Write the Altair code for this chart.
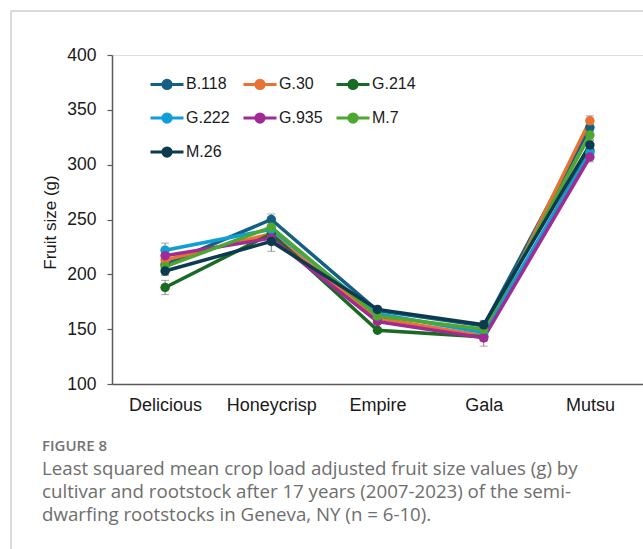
import altair as alt
import pandas as pd

# Cultivars on the x axis and rootstocks as series
cultivars = ["Delicious", "Honeycrisp", "Empire", "Gala", "Mutsu"]
rootstocks = ["B.118", "G.30", "G.214", "G.222", "G.935", "M.7", "M.26"]
colors = ["#156082", "#e97132", "#196b24", "#0f9ed5", "#a02b93", "#4ea72e", "#0c3a4e"]

# Least-squares mean fruit size (g), one list per rootstock, in cultivar order
b118 = [209, 250, 167, 153, 334]
g30 = [213, 237, 160, 144, 340]
g214 = [188, 237, 149, 143, 313]
g222 = [222, 241, 164, 147, 311]
g935 = [217, 233, 157, 142, 307]
m7 = [207, 243, 162, 150, 327]
m26 = [203, 230, 168, 154, 318]

# Standard errors (g)
b118_se = [5, 5, 2, 4, 4]
g30_se = [5, 5, 2, 4, 4.5]
g214_se = [6.5, 5, 2, 4, 4]
g222_se = [6.5, 5, 2, 4, 4]
g935_se = [5, 5, 2, 7.5, 4.5]
m7_se = [5, 5, 2, 4, 4]
m26_se = [4, 9, 2, 4, 4]

caption_label = "FIGURE 8"
caption_lines = ["Least squared mean crop load adjusted fruit size values (g) by",
                 "cultivar and rootstock after 17 years (2007-2023) of the semi-",
                 "dwarfing rootstocks in Geneva, NY (n = 6-10)."]

means = [b118, g30, g214, g222, g935, m7, m26]
errors = [b118_se, g30_se, g214_se, g222_se, g935_se, m7_se, m26_se]

rows = []
for k, (stock, vals, ses) in enumerate(zip(rootstocks, means, errors)):
    for cv, v, s in zip(cultivars, vals, ses):
        rows.append({"rootstock": stock, "order": k, "cultivar": cv,
                     "size": v, "lo": v - s, "hi": v + s})
df = pd.DataFrame(rows)

W, H = 531, 329
FONT = "Liberation Sans"

x = alt.X("cultivar:N", sort=cultivars,
          scale=alt.Scale(type="point", padding=0.5),
          axis=alt.Axis(title=None, labelAngle=0, ticks=False, labelFontSize=18,
                        labelFont=FONT, labelColor="#1a1a1a", labelPadding=12,
                        domainColor="#595959", domainWidth=1.5))
y_scale = alt.Scale(domain=[100, 400], nice=False, zero=False)
y = alt.Y("size:Q", scale=y_scale,
          axis=alt.Axis(title="Fruit size (g)", values=list(range(100, 401, 50)),
                        grid=False, tickSize=5, tickColor="#595959", tickWidth=1.2,
                        domainColor="#595959", domainWidth=1.5,
                        labelFontSize=17.5, labelFont=FONT, labelColor="#1a1a1a",
                        labelPadding=11, titleFont=FONT, titleFontSize=17,
                        titleFontWeight="normal", titleColor="#1a1a1a",
                        titleX=-62, titleY=167, titleAngle=-90,
                        titleBaseline="middle", titleAlign="center"))

legend_symbol = ("M-1,0H1M0.25,0A0.25,0.25,0,1,1,-0.25,0"
                 "A0.25,0.25,0,1,1,0.25,0Z")
color = alt.Color("rootstock:N", sort=rootstocks,
                  scale=alt.Scale(domain=rootstocks, range=colors),
                  legend=alt.Legend(title=None, orient="none", legendX=37, legendY=11,
                                    columns=3, direction="horizontal",
                                    symbolType=legend_symbol, symbolSize=1089,
                                    symbolStrokeWidth=3, symbolOpacity=1,
                                    labelFont=FONT, labelFontSize=16,
                                    labelColor="#1a1a1a", labelOffset=1,
                                    columnPadding=7, rowPadding=5, padding=0))

base = alt.Chart(df)

err = base.mark_rule(color="#808080", strokeWidth=1).encode(
    x=x, y=alt.Y("lo:Q", scale=y_scale), y2="hi:Q")
cap_lo = base.mark_tick(color="#808080", thickness=1, size=8).encode(
    x=x, y=alt.Y("lo:Q", scale=y_scale))
cap_hi = base.mark_tick(color="#808080", thickness=1, size=8).encode(
    x=x, y=alt.Y("hi:Q", scale=y_scale))

lines = base.mark_line(strokeWidth=3.5).encode(
    x=x, y=y, color=color, order=alt.Order("order:Q"))
points = base.mark_point(filled=True, size=90, opacity=1).encode(
    x=x, y=y, color=color, order=alt.Order("order:Q"))

# Light frame around the figure panel
one_row = alt.Data(values=[{"f": 1}])
frame_top = alt.Chart(one_row).mark_rule(color="#cccccc", strokeWidth=1.5).encode(
    x=alt.value(-101), x2=alt.value(W + 20), y=alt.value(-44))
frame_left = alt.Chart(one_row).mark_rule(color="#cccccc", strokeWidth=1.5).encode(
    x=alt.value(-101), y=alt.value(-44), y2=alt.value(H + 200))

# Figure caption below the plot
caption = [alt.Chart(one_row).mark_text(
    text=caption_label, align="left", baseline="alphabetic", font="Open Sans",
    fontSize=15, fontWeight=600, color="#737373").encode(
    x=alt.value(-70), y=alt.value(396))]
for i, line in enumerate(caption_lines):
    caption.append(alt.Chart(one_row).mark_text(
        text=line, align="left", baseline="alphabetic", font="Open Sans",
        fontSize=18.7, color="#6e6e6e").encode(
        x=alt.value(-70), y=alt.value(420 + 23 * i)))

chart = alt.layer(frame_top, frame_left, err, cap_lo, cap_hi, lines, points,
                  *caption).properties(
    width=W, height=H,
    padding={"left": 112, "top": 55, "right": 0, "bottom": 165},
    autosize=alt.AutoSizeParams(type="none"),
).configure_view(stroke=None).configure(background="white")

chart.save("out.html", embed_options={"renderer": "svg", "actions": False})
